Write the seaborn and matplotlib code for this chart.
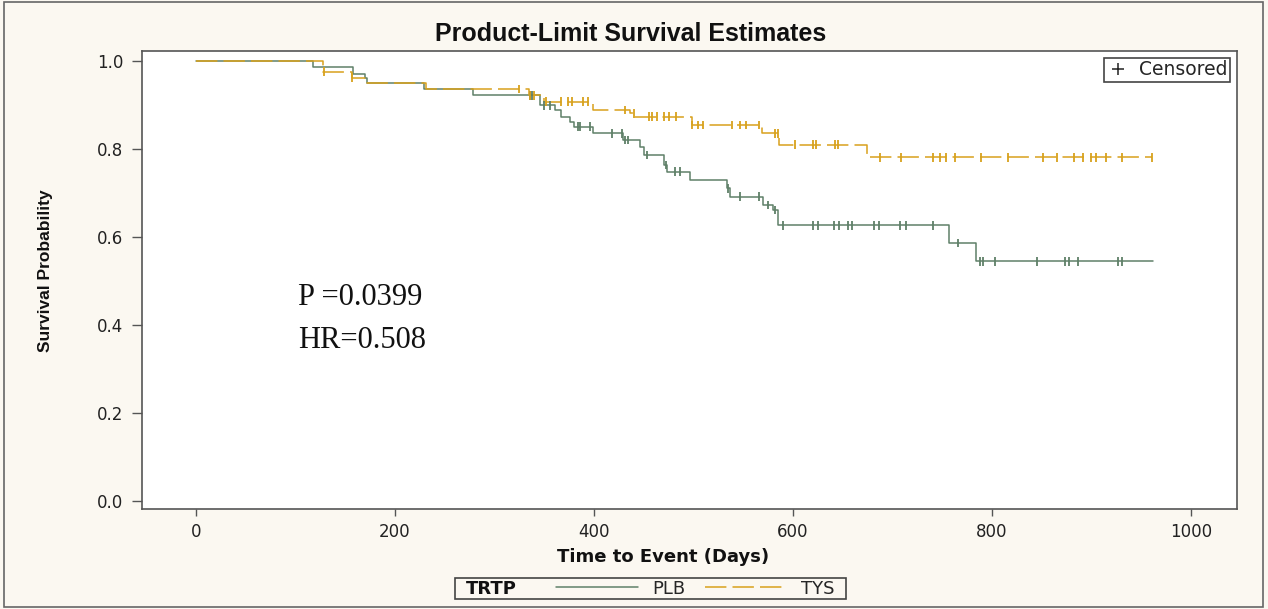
import numpy as np
import pandas as pd
import matplotlib.pyplot as plt
import matplotlib.patches as mpatches
from matplotlib.lines import Line2D
import seaborn as sns

# ---- setup ----
sns.set_theme(style="white")
plt.rcParams['font.family'] = ['DejaVu Sans']

BG = "#FBF8F1"
EDGE = "#555555"
COLORS = {"PLB": "#5F8068", "TYS": "#D8A11C"}

# ---- data ----
GROUPS = ["PLB", "TYS"]

# event times (days) and survival after each event
PLB_TIMES = [0, 118, 158, 170, 172, 229, 278, 346, 361, 367, 376, 380, 399, 429,
             446, 450, 470, 473, 496, 534, 537, 570, 580, 585, 757, 784]
PLB_SURV = [1.0, 0.986, 0.971, 0.962, 0.949, 0.936, 0.922, 0.899, 0.888, 0.873,
            0.862, 0.850, 0.835, 0.820, 0.805, 0.786, 0.763, 0.748, 0.729, 0.710,
            0.691, 0.672, 0.661, 0.626, 0.586, 0.544]
PLB_END = 962
PLB_CENSOR = [336, 338, 350, 356, 384, 386, 396, 418, 428, 431, 434, 453, 472, 481,
              486, 535, 547, 566, 575, 582, 590, 620, 625, 641, 646, 655, 659, 681,
              686, 708, 714, 741, 766, 788, 791, 803, 845, 873, 877, 886, 927, 931]

TYS_TIMES = [0, 128, 157, 172, 231, 335, 350, 399, 436, 441, 498, 569, 586, 674]
TYS_SURV = [1.0, 0.975, 0.962, 0.949, 0.936, 0.922, 0.907, 0.888, 0.881, 0.873,
            0.854, 0.835, 0.809, 0.781]
TYS_END = 961
TYS_CENSOR = [129, 157, 325, 336, 340, 352, 367, 374, 378, 389, 394, 431, 440, 455,
              458, 463, 470, 475, 482, 498, 505, 510, 539, 547, 553, 566, 582, 585,
              602, 620, 623, 642, 645, 687, 709, 741, 748, 754, 763, 789, 816, 851,
              865, 882, 891, 899, 904, 915, 931, 961]

X_TICKS = [0, 200, 400, 600, 800, 1000]
Y_TICKS = [0.0, 0.2, 0.4, 0.6, 0.8, 1.0]

# ---- build tables ----
curves = {
    "PLB": (PLB_TIMES, PLB_SURV, PLB_END, PLB_CENSOR),
    "TYS": (TYS_TIMES, TYS_SURV, TYS_END, TYS_CENSOR),
}
step_rows, cens_rows = [], []
for g in GROUPS:
    t, s, end, cens = curves[g]
    for ti, si in zip(t + [end], s + [s[-1]]):
        step_rows.append({"time": ti, "surv": si, "TRTP": g})
    idx = np.searchsorted(t, cens, side="right") - 1
    for ci, k in zip(cens, idx):
        cens_rows.append({"time": ci, "surv": s[k], "TRTP": g})
steps = pd.DataFrame(step_rows)
cens = pd.DataFrame(cens_rows)

# ---- figure ----
fig = plt.figure(figsize=(12.68, 6.09), dpi=100, facecolor=BG)
ax = fig.add_axes([0.1117, 0.1642, 0.8641, 0.7525])
ax.set_facecolor("white")

sns.lineplot(data=steps, x="time", y="surv", hue="TRTP", style="TRTP",
             palette=COLORS, dashes={"PLB": "", "TYS": (14, 4)},
             drawstyle="steps-post", estimator=None, sort=False,
             linewidth=1.1, legend=False, ax=ax)
sns.scatterplot(data=cens, x="time", y="surv", hue="TRTP", palette=COLORS,
                marker="|", s=40, linewidth=1.3, legend=False, ax=ax, zorder=3)

ax.set_xlim(-54.6, 1046.5)
ax.set_ylim(-0.019, 1.023)
ax.set_xticks(X_TICKS)
ax.set_xticklabels([str(v) for v in X_TICKS])
ax.set_yticks(Y_TICKS)
ax.set_yticklabels([f"{v:.1f}" for v in Y_TICKS])
ax.tick_params(axis="x", length=5, width=1, color=EDGE, pad=5,
               labelsize=12, labelcolor="#222222", bottom=True)
ax.tick_params(axis="y", length=7, width=1, color=EDGE, pad=6,
               labelsize=12, labelcolor="#222222", left=True)
for sp in ax.spines.values():
    sp.set_color(EDGE)
    sp.set_linewidth(1.2)

fig.suptitle("Product-Limit Survival Estimates", fontsize=18, fontweight="bold",
             family=["Liberation Sans", "DejaVu Sans"], x=0.497, y=0.9635,
             va="top", color="#111111")
ax.set_xlabel("Time to Event (Days)", fontsize=13, fontweight="bold",
              color="#111111")
ax.xaxis.set_label_coords(0.476, -0.085)
ax.set_ylabel("Survival Probability", fontsize=12.5, fontweight="bold",
              family=["Liberation Sans", "DejaVu Sans"], color="#111111")
ax.yaxis.set_label_coords(-0.081, 0.52)

# P value / HR annotation
ax.text(103, 0.445, "P =0.0399", fontsize=22, family=["Liberation Serif"],
        va="baseline", ha="left", color="#111111")
ax.text(103, 0.347, "HR=0.508", fontsize=22, family=["Liberation Serif"],
        va="baseline", ha="left", color="#111111")

# censored legend in the corner
cens_handle = Line2D([], [], marker="+", linestyle="none", color="#222222",
                     markersize=8, markeredgewidth=1.1)
leg1 = ax.legend(handles=[cens_handle], labels=["Censored"], loc="upper right",
                 fontsize=13.5, handlelength=1.3, handletextpad=0.45,
                 borderpad=0.12, borderaxespad=0.4, fancybox=False,
                 framealpha=1, edgecolor="#444444")
leg1.get_frame().set_linewidth(1.2)

# bottom group legend
handles = [Line2D([], [], color=COLORS["PLB"], lw=1.1),
           Line2D([], [], color=COLORS["TYS"], lw=1.1, dashes=(14, 4))]
fig.legend(handles=handles, labels=GROUPS, loc="center", ncol=2,
           bbox_to_anchor=(0.5485, 0.0336), frameon=False, fontsize=13,
           handlelength=4.55, handletextpad=0.78, columnspacing=1.1)
fig.text(0.3675, 0.0336, "TRTP", fontsize=13, fontweight="bold",
         va="center", ha="left", color="#111111")
fig.add_artist(mpatches.Rectangle((0.3588, 0.0164), 0.3084, 0.0345,
                                  transform=fig.transFigure, fill=False,
                                  edgecolor="#444444", lw=1.2))

# outer frame
fig.add_artist(mpatches.Rectangle((0.003, 0.004), 0.993, 0.992,
                                  transform=fig.transFigure, fill=False,
                                  edgecolor="#666666", lw=1.2))

fig.savefig("out.png", dpi=100, facecolor=BG)
